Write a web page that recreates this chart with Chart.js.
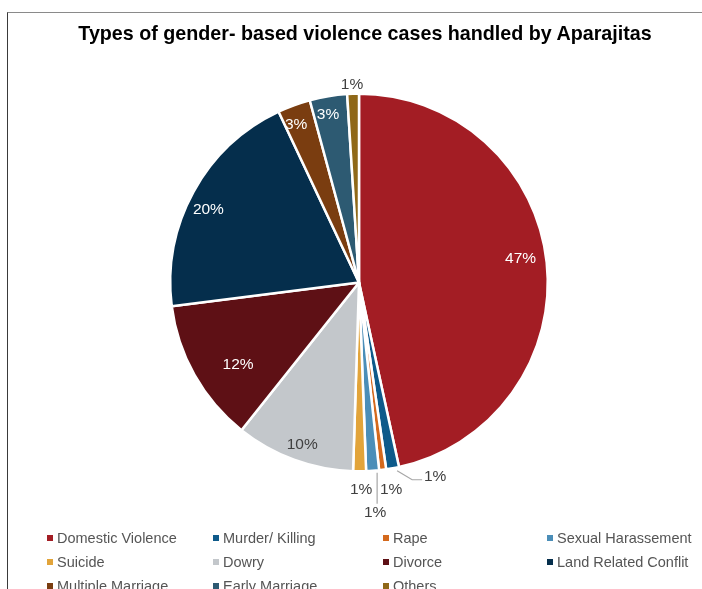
<!DOCTYPE html>
<html><head><meta charset="utf-8">
<script src="https://cdn.jsdelivr.net/npm/chart.js@4/dist/chart.umd.min.js"></script>
<style>
html,body{margin:0;padding:0;background:#fff;overflow:hidden;}
#wrap{position:relative;width:702px;height:589px;overflow:hidden;font-family:"Liberation Sans",Arial,sans-serif;}
#frame{position:absolute;left:7px;top:12px;width:760px;height:660px;border-left:1.5px solid #3a3a3a;border-top:1px solid #8a8a8a;}
#title{position:absolute;left:7px;width:716px;top:22px;text-align:center;font-weight:bold;font-size:19.7px;color:#000;white-space:nowrap;}
#c{position:absolute;left:0;top:0;}
#legend{position:absolute;left:47px;top:526px;display:grid;grid-template-columns:166px 170px 164px 170px;grid-auto-rows:24px;font-size:14.5px;color:#555;}
.it{display:flex;align-items:center;white-space:nowrap;}
.mk{width:6px;height:6px;margin-right:4px;flex:none;}
</style></head>
<body><div id="wrap">
<div id="frame"></div>
<canvas id="c" width="702" height="589"></canvas>
<div id="title">Types of gender- based violence cases handled by Aparajitas</div>
<div id="legend"></div>
</div>
<script>
const categories = ["Domestic Violence","Murder/ Killing","Rape","Sexual Harassement","Suicide","Dowry","Divorce","Land Related Conflit","Multiple Marriage","Early Marriage","Others"];
const shares = [46.6, 1.1, 0.6, 1.1, 1.1, 10.2, 12.3, 20.0, 2.8, 3.2, 1.0];
const colors = ["#A31D24","#0E5A8A","#D4691D","#4B8EB8","#E2A43A","#C3C7CB","#5E1015","#052E4C","#7A3D10","#2D5A72","#8F6818"];

// label placement styling per slice (r: fraction of radius, da: angle nudge in degrees)
const labelPlace = [
  {r:0.865, da:-2.2, color:"#fff"},
  {out:[42.5,8.5], color:"#404040", leader:[[-38,-6],[-23,3],[-13,3]]},
  {out:[8.5,20], color:"#404040"},
  {out:[2.5,42], color:"#404040", leader:[[2,-40],[2,-9]]},
  {out:[1.5,18.5], color:"#404040"},
  {r:0.913, da:-0.9, color:"#404040"},
  {r:0.776, da:-5, color:"#fff"},
  {r:0.887, da:-2.9, color:"#fff"},
  {r:0.899, da:-1.6, color:"#fff"},
  {r:0.903, da:-1.1, color:"#fff"},
  {out:[-1,-9.5], color:"#404040"}
];

const labelPlugin = {
  id:'sliceLabels',
  afterDatasetsDraw(chart){
    const ctx = chart.ctx;
    const meta = chart.getDatasetMeta(0);
    const data = chart.data.datasets[0].data;
    const total = data.reduce((a,b)=>a+b,0);
    ctx.save();
    ctx.font = '15.5px "Liberation Sans", Arial, sans-serif';
    ctx.textAlign = 'center';
    ctx.textBaseline = 'middle';
    meta.data.forEach((arc,i)=>{
      const p = arc.getProps(['x','y','startAngle','endAngle','outerRadius'],true);
      const cfg = labelPlace[i];
      let mid = (p.startAngle+p.endAngle)/2;
      let lx, ly;
      if (cfg.out){
        const ax = p.x + Math.cos(mid)*p.outerRadius;
        const ay = p.y + Math.sin(mid)*p.outerRadius;
        lx = ax + cfg.out[0]; ly = ay + cfg.out[1];
        if (cfg.leader){
          ctx.strokeStyle = '#A6A6A6'; ctx.lineWidth = 1.2;
          ctx.beginPath();
          cfg.leader.forEach((pt,k)=>{
            const px = lx+pt[0], py = ly+pt[1];
            if(k===0) ctx.moveTo(px,py); else ctx.lineTo(px,py);
          });
          ctx.stroke();
        }
      } else {
        mid += (cfg.da||0)*Math.PI/180;
        lx = p.x + Math.cos(mid)*p.outerRadius*cfg.r;
        ly = p.y + Math.sin(mid)*p.outerRadius*cfg.r;
      }
      ctx.fillStyle = cfg.color;
      ctx.fillText(Math.round(data[i]/total*100)+'%', lx, ly);
    });
    ctx.restore();
  }
};

new Chart(document.getElementById('c'), {
  type:'pie',
  data:{labels:categories, datasets:[{data:shares, backgroundColor:colors, borderColor:'#fff', borderWidth:2.5}]},
  options:{
    responsive:false, animation:false,
    layout:{padding:{left:169, right:153, top:92, bottom:116}},
    plugins:{legend:{display:false}, title:{display:false}, tooltip:{enabled:false}}
  },
  plugins:[labelPlugin]
});

const lg = document.getElementById('legend');
categories.forEach((c,i)=>{
  const d = document.createElement('div'); d.className='it';
  d.innerHTML = '<span class="mk" style="background:'+colors[i]+'"></span><span>'+c+'</span>';
  lg.appendChild(d);
});
</script>
</body></html>
